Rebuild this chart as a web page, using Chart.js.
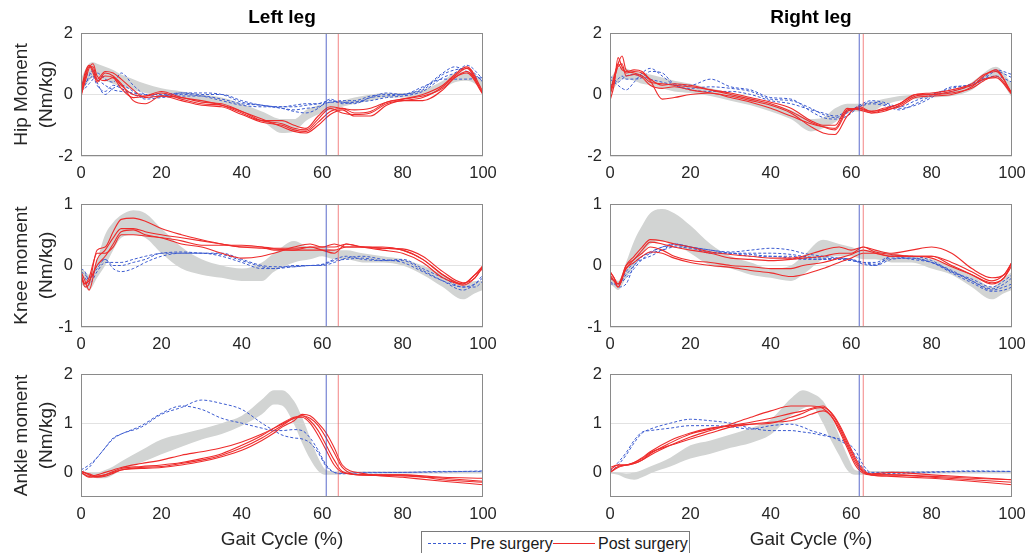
<!DOCTYPE html>
<html>
<head>
<meta charset="utf-8">
<script src="https://cdn.jsdelivr.net/npm/chart.js@4.4.0/dist/chart.umd.min.js"></script>
<style>
  html, body { margin: 0; padding: 0; background: #ffffff; }
  #fig { position: relative; width: 1029px; height: 553px; overflow: hidden; background: #fff;
         font-family: "Liberation Sans", Arial, Helvetica, sans-serif; }
  #fig canvas { position: absolute; }
  #legend { position: absolute; left: 421px; top: 531px; width: 269px; height: 30px; box-sizing: border-box;
            border: 1px solid #7a7a7a; background: #fff; color: #1a1a1a; font-size: 16px; line-height: 16px; }
  #legend .txt { position: absolute; top: 3.6px; white-space: nowrap; }
  #legend .pre { position: absolute; left: 6px; top: 11px; width: 39px; height: 1px;
                 background: repeating-linear-gradient(to right, #3b5bd0 0 3px, transparent 3px 5px); }
  #legend .post { position: absolute; left: 131px; top: 11px; width: 42px; height: 1px; background: #ee2b2b; }
</style>
</head>
<body>
<div id="fig">
  <canvas id="c_lh" width="500" height="186" style="left:0px;top:0px"></canvas>
  <canvas id="c_rh" width="509" height="186" style="left:520px;top:0px"></canvas>
  <canvas id="c_lk" width="500" height="163" style="left:0px;top:194px"></canvas>
  <canvas id="c_rk" width="509" height="163" style="left:520px;top:194px"></canvas>
  <canvas id="c_la" width="500" height="187" style="left:0px;top:364px"></canvas>
  <canvas id="c_ra" width="509" height="187" style="left:520px;top:364px"></canvas>
  <div id="legend">
    <span class="pre"></span><span class="txt" style="left:48px">Pre surgery</span>
    <span class="post"></span><span class="txt" style="left:176px">Post surgery</span>
  </div>
</div>
<script>
// ---------------- DATA ----------------
const xTicks = [0, 20, 40, 60, 80, 100];
const hipTicks = [-2, 0, 2];
const kneeTicks = [-1, 0, 1];
const ankleTicks = [0, 1, 2];

// toe-off (% gait cycle): [left, right]
const toeOffPre = [61, 62];
const toeOffPost = [64, 63];

// gait cycle sample positions (%)
const hipX = [0,1,2,3,4, 6,8,10, 13,16,20, 25,30,35,40,45,50, 53,56,59,62,65,68, 72,76,80, 85,90,93,96,100];
const kneeX = [0,1,2,4,6, 8,10,13,16,20, 25,30,35,40,45, 48,53,57,60,63, 66,70,75,80,85, 90,95,98,100];
const ankleX = [0,2,4,6,8, 10,15,20,25,30, 35,40,45,48,50, 53,55,57,59,61, 63,65,70,80,90, 100];

// ---- Left hip ----
const leftHipBandUpper = [0.5,0.8,1.0,1.05,1.0, 0.9,0.8,0.65, 0.5,0.35,0.2, 0.1,0.0,-0.1,-0.3,-0.55,-0.8, -0.8,-0.5,-0.35,-0.25,-0.2,-0.1, 0.0,0.05,0.05, 0.15,0.45,0.7,0.75,0.45];
const leftHipBandLower = [0.0,0.25,0.45,0.55,0.55, 0.45,0.35,0.25, 0.15,0.05,-0.05, -0.15,-0.25,-0.35,-0.55,-0.85,-1.25, -1.2,-0.85,-0.65,-0.5,-0.4,-0.3, -0.2,-0.1,-0.1, -0.05,0.2,0.4,0.45,0.2];
const leftHipPost = [
  [0,0.6,0.95,0.7,0.4, 0.7,0.6,0.3, 0.0,-0.05,0.05, -0.15,-0.3,-0.35,-0.55,-0.85,-0.95, -1.1,-1.15,-0.8,-0.45,-0.6,-0.65, -0.6,-0.3,-0.2, -0.1,0.25,0.6,0.85,0],
  [-0.1,0.5,0.9,0.9,0.5, 0.75,0.7,0.5, 0.15,-0.1,-0.05, -0.2,-0.35,-0.4,-0.65,-0.9,-1.0, -1.15,-1.2,-0.9,-0.55,-0.45,-0.6, -0.55,-0.25,-0.15, -0.05,0.2,0.55,0.75,0.05],
  [0,0.4,0.85,1.0,0.6, 0.45,0.55,0.35, -0.2,-0.3,-0.05, -0.1,-0.25,-0.3,-0.55,-0.8,-1.05, -1.2,-1.25,-1.0,-0.65,-0.5,-0.7, -0.7,-0.35,-0.2, -0.2,0.15,0.55,0.7,0],
  [0.1,0.7,0.95,0.8,0.45, 0.6,0.55,0.2, -0.1,-0.05,0.1, -0.1,-0.2,-0.35,-0.6,-0.85,-0.85, -1.0,-1.1,-0.7,-0.4,-0.45,-0.5, -0.45,-0.25,-0.15, 0.0,0.3,0.65,0.9,0.1]
];
const leftHipPre = [
  [0.1,0.2,0.35,0.5,0.7, 0.5,0.4,0.7, 0.3,0.0,-0.05, 0.05,0.0,0.0,-0.2,-0.35,-0.4, -0.4,-0.35,-0.3,-0.2,-0.25,-0.3, -0.1,-0.05,0.0, 0.15,0.65,0.8,0.85,0.4],
  [0.2,0.3,0.6,0.8,0.4, 0.0,0.2,0.3, 0.1,-0.15,-0.1, -0.05,-0.05,-0.15,-0.3,-0.35,-0.45, -0.55,-0.6,-0.45,-0.15,-0.3,-0.25, -0.2,-0.1,-0.05, 0.1,0.55,0.7,0.95,0.5],
  [0.3,0.5,0.7,0.6,0.3, 0.1,0.3,0.2, 0.0,-0.1,-0.05, 0.0,-0.05,-0.2,-0.35,-0.4,-0.4, -0.35,-0.3,-0.3,-0.25,-0.2,-0.2, -0.05,0.0,0.0, 0.25,0.5,0.5,0.5,0.55],
  [0.4,0.4,0.5,0.6,0.5, 0.3,0.15,0.1, 0.05,0.0,0.0, 0.05,0.05,0.0,-0.25,-0.35,-0.45, -0.5,-0.45,-0.4,-0.25,-0.25,-0.25, -0.1,0.05,0.0, 0.2,0.7,0.9,0.75,0.45]
];

// ---- Right hip ----
const rightHipBandUpper = [0.5,0.7,0.85,0.9,0.85, 0.75,0.7,0.65, 0.55,0.45,0.35, 0.2,0.05,-0.1,-0.3,-0.5,-0.8, -0.75,-0.45,-0.3,-0.3,-0.25,-0.15, -0.05,0.0,0.05, 0.1,0.4,0.7,0.9,0.35];
const rightHipBandLower = [0.0,0.2,0.4,0.5,0.5, 0.45,0.35,0.3, 0.2,0.1,0.05, -0.05,-0.2,-0.35,-0.55,-0.8,-1.2, -1.1,-0.9,-0.6,-0.55,-0.55,-0.35, -0.2,-0.15,-0.1, -0.05,0.15,0.45,0.55,-0.1];
const rightHipPost = [
  [-0.2,0.3,1.2,0.9,0.7, 0.75,0.7,0.45, -0.15,-0.1,0.0, 0.05,-0.1,-0.25,-0.45,-0.7,-0.95, -1.05,-1.1,-0.5,-0.45,-0.55,-0.45, -0.3,0.0,0.0, 0.1,0.3,0.5,0.55,0.0],
  [0.0,0.6,1.0,1.25,0.8, 0.7,0.6,0.4, 0.35,0.3,0.25, 0.15,0.05,-0.1,-0.25,-0.45,-0.85, -1.0,-1.0,-0.45,-0.5,-0.6,-0.55, -0.35,-0.05,0.0, 0.05,0.2,0.45,0.6,0.05],
  [0.1,0.5,0.9,1.0,0.6, 0.65,0.55,0.3, 0.2,0.25,0.15, 0.05,-0.05,-0.2,-0.35,-0.6,-1.05, -1.25,-1.3,-0.7,-0.4,-0.55,-0.5, -0.4,-0.1,-0.05, 0.0,0.25,0.6,0.8,0.0],
  [0.0,0.4,1.0,0.8,0.75, 0.8,0.75,0.5, 0.3,0.35,0.3, 0.15,0.0,-0.15,-0.3,-0.55,-0.9, -1.05,-1.15,-0.55,-0.45,-0.6,-0.5, -0.3,0.0,0.05, 0.15,0.35,0.65,0.75,0.05]
];
const rightHipPre = [
  [0.5,0.4,0.3,0.2,0.15, 0.4,0.7,0.85, 0.6,0.3,0.2, 0.25,0.2,0.1,-0.15,-0.2,-0.45, -0.65,-0.75,-0.6,-0.35,-0.2,-0.25, -0.4,-0.2,0.0, 0.2,0.35,0.55,0.8,0.65],
  [0.3,0.35,0.5,0.6,0.5, 0.5,0.55,0.75, 0.7,0.35,0.3, 0.5,0.25,0.15,-0.1,-0.15,-0.55, -0.75,-0.8,-0.7,-0.4,-0.25,-0.3, -0.45,-0.35,-0.1, 0.25,0.3,0.5,0.75,0.55],
  [0.6,0.5,0.4,0.5,0.6, 0.65,0.6,0.5, 0.4,0.3,0.15, 0.1,0.1,0.0,-0.2,-0.3,-0.5, -0.6,-0.7,-0.55,-0.4,-0.3,-0.35, -0.5,-0.3,-0.05, 0.1,0.3,0.5,0.6,0.4]
];

// ---- Left knee ----
const leftKneeBandUpper = [-0.05,-0.1,-0.15,0.1,0.5, 0.7,0.82,0.9,0.85,0.6, 0.3,0.1,0.0,-0.05,0.05, 0.2,0.4,0.3,0.3,0.25, 0.25,0.2,0.15,0.1,0.0, -0.15,-0.3,-0.25,-0.25];
const leftKneeBandLower = [-0.3,-0.35,-0.4,-0.2,0.0, 0.25,0.45,0.5,0.45,0.2, -0.05,-0.15,-0.2,-0.25,-0.25, -0.1,0.05,0.1,0.15,0.1, 0.1,0.05,0.05,0.0,-0.15, -0.35,-0.55,-0.45,-0.4];
const leftKneePost = [
  [-0.15,-0.35,-0.3,0.25,0.3, 0.55,0.75,0.77,0.72,0.6, 0.5,0.42,0.35,0.3,0.3, 0.28,0.28,0.3,0.3,0.35, 0.3,0.3,0.28,0.27,0.15, -0.1,-0.28,-0.2,0.0],
  [-0.1,-0.25,-0.4,0.1,0.25, 0.45,0.6,0.6,0.55,0.5, 0.45,0.4,0.35,0.3,0.28, 0.27,0.25,0.25,0.25,0.25, 0.3,0.3,0.28,0.25,0.1, -0.15,-0.3,-0.15,0.0],
  [-0.2,-0.3,-0.2,0.2,0.2, 0.3,0.5,0.5,0.48,0.45, 0.4,0.33,0.33,0.33,0.3, 0.25,0.25,0.3,0.25,0.2, 0.35,0.3,0.25,0.2,0.05, -0.2,-0.3,-0.15,-0.05],
  [-0.15,-0.3,-0.25,0.0,0.15, 0.35,0.55,0.58,0.5,0.45, 0.35,0.3,0.2,0.12,0.15, 0.2,0.3,0.35,0.3,0.3, 0.35,0.3,0.3,0.25,0.1, -0.15,-0.32,-0.2,-0.02]
];
const leftKneePre = [
  [-0.1,-0.15,-0.2,-0.05,0.1, 0.0,0.0,0.05,0.1,0.2, 0.2,0.2,0.2,0.1,0.0, -0.02,-0.02,0.0,0.0,0.05, 0.12,0.15,0.1,0.05,-0.1, -0.25,-0.35,-0.3,-0.2],
  [-0.05,-0.1,-0.25,0.0,0.1, -0.05,-0.1,-0.05,0.05,0.15, 0.2,0.2,0.15,0.05,-0.05, -0.05,0.0,0.0,0.02,0.1, 0.15,0.1,0.08,0.1,-0.05, -0.2,-0.35,-0.35,-0.25],
  [-0.15,-0.2,-0.3,-0.1,0.05, 0.05,0.05,0.1,0.15,0.2, 0.22,0.2,0.18,0.08,-0.02, -0.05,-0.02,0.0,0.01,0.08, 0.1,0.12,0.08,0.08,-0.08, -0.25,-0.4,-0.3,-0.15]
];

// ---- Right knee ----
const rightKneeBandUpper = [-0.15,-0.2,-0.25,0.05,0.4, 0.65,0.85,0.92,0.85,0.65, 0.35,0.15,0.05,-0.05,0.0, 0.15,0.42,0.35,0.3,0.25, 0.25,0.2,0.15,0.1,0.0, -0.15,-0.35,-0.2,-0.1];
const rightKneeBandLower = [-0.3,-0.35,-0.4,-0.2,0.0, 0.2,0.35,0.4,0.35,0.2, 0.0,-0.05,-0.15,-0.2,-0.25, -0.15,0.1,0.15,0.15,0.1, 0.1,0.05,0.05,-0.05,-0.15, -0.35,-0.55,-0.45,-0.4];
const rightKneePost = [
  [-0.1,-0.2,-0.35,0.0,0.15, 0.3,0.42,0.4,0.35,0.3, 0.22,0.18,0.15,0.12,0.12, 0.15,0.25,0.3,0.25,0.3, 0.25,0.2,0.25,0.3,0.2, -0.05,-0.2,-0.15,0.05],
  [-0.15,-0.25,-0.3,0.0,0.1, 0.25,0.38,0.35,0.3,0.25, 0.2,0.12,0.1,0.08,0.1, 0.12,0.15,0.2,0.2,0.3, 0.22,0.18,0.15,0.15,0.05, -0.1,-0.25,-0.15,0.05],
  [-0.1,-0.2,-0.3,-0.05,0.1, 0.2,0.3,0.25,0.15,0.08, 0.05,0.0,-0.02,-0.05,-0.05, 0.0,0.05,0.12,0.18,0.25, 0.2,0.15,0.15,0.15,0.0, -0.15,-0.3,-0.2,0.0],
  [-0.2,-0.25,-0.35,-0.05,0.05, 0.15,0.22,0.2,0.12,0.05, 0.0,-0.03,-0.08,-0.12,-0.18, -0.15,-0.05,0.05,0.12,0.2, 0.2,0.15,0.15,0.12,-0.02, -0.15,-0.28,-0.2,0.05]
];
const rightKneePre = [
  [-0.2,-0.25,-0.3,-0.1,0.05, 0.15,0.22,0.3,0.35,0.3, 0.25,0.22,0.25,0.28,0.25, 0.2,0.15,0.12,0.1,0.02, 0.0,0.1,0.12,0.05,-0.1, -0.25,-0.38,-0.3,-0.2],
  [-0.3,-0.3,-0.35,-0.3,0.0, 0.1,0.15,0.25,0.35,0.3, 0.2,0.2,0.15,0.15,0.12, 0.1,0.1,0.1,0.08,0.05, 0.02,0.12,0.12,0.05,-0.12, -0.28,-0.42,-0.4,-0.35],
  [-0.2,-0.25,-0.3,-0.15,0.0, 0.15,0.2,0.25,0.3,0.28, 0.22,0.2,0.2,0.2,0.18, 0.15,0.12,0.1,0.08,0.05, 0.05,0.15,0.1,0.05,-0.08, -0.25,-0.4,-0.35,-0.3],
  [-0.25,-0.3,-0.3,-0.2,-0.05, 0.1,0.2,0.3,0.32,0.3, 0.25,0.2,0.18,0.15,0.15, 0.12,0.1,0.12,0.1,0.05, 0.0,0.15,0.15,0.08,-0.1, -0.22,-0.35,-0.25,-0.15]
];

// ---- Left ankle ----
const leftAnkleBandUpper = [0.03,0.0,0.0,0.05,0.12, 0.22,0.45,0.67,0.78,0.88, 1.0,1.15,1.48,1.67,1.67, 1.45,1.12,0.7,0.3,0.05, 0.02,0.02,0.02,0.02,0.02, 0.02];
const leftAnkleBandLower = [-0.03,-0.08,-0.12,-0.12,-0.05, 0.05,0.2,0.37,0.52,0.67, 0.78,0.95,1.18,1.38,1.36, 0.98,0.6,0.27,0.03,-0.05, -0.05,-0.03,-0.02,-0.02,-0.02, -0.02];
const leftAnklePost = [
  [0.0,-0.08,-0.05,0.0,0.05, 0.1,0.18,0.25,0.35,0.42, 0.5,0.62,0.78,0.9,0.98, 1.1,1.12,1.0,0.75,0.45, 0.15,0.0,-0.05,-0.05,-0.1, -0.12],
  [0.03,-0.03,-0.08,-0.05,0.02, 0.08,0.12,0.15,0.2,0.28, 0.38,0.55,0.75,0.9,1.0, 1.12,1.15,1.05,0.85,0.55, 0.25,0.02,-0.05,-0.07,-0.12, -0.18],
  [0.0,-0.1,-0.08,-0.05,0.0, 0.05,0.1,0.12,0.18,0.25, 0.35,0.5,0.7,0.85,0.95, 1.1,1.15,1.1,0.95,0.7, 0.4,0.1,-0.05,-0.05,-0.15, -0.2],
  [0.02,-0.05,-0.1,-0.08,-0.02, 0.05,0.08,0.1,0.15,0.22, 0.32,0.45,0.65,0.8,0.92, 1.05,1.18,1.15,1.0,0.8, 0.5,0.15,-0.02,-0.1,-0.18, -0.25]
];
const leftAnklePre = [
  [0.0,0.1,0.3,0.5,0.7, 0.78,0.95,1.2,1.35,1.28, 1.1,1.0,0.9,0.85,0.85, 0.87,0.85,0.7,0.45,0.15, 0.0,-0.03,0.0,0.0,0.02, 0.02],
  [0.05,0.15,0.3,0.5,0.68, 0.78,0.92,1.18,1.32,1.47, 1.4,1.28,1.0,0.85,0.76, 0.7,0.68,0.6,0.4,0.12, 0.0,-0.02,-0.01,0.0,0.01, 0.03]
];

// ---- Right ankle ----
const rightAnkleBandUpper = [0.02,0.0,-0.02,0.0,0.05, 0.12,0.3,0.55,0.65,0.77, 0.9,1.08,1.5,1.67,1.62, 1.45,1.15,0.75,0.35,0.05, 0.02,0.03,0.03,0.03,0.03, 0.03];
const rightAnkleBandLower = [-0.02,-0.05,-0.12,-0.15,-0.1, -0.02,0.12,0.28,0.38,0.5, 0.6,0.77,1.15,1.3,1.35, 1.0,0.65,0.35,0.05,-0.05, -0.05,-0.03,-0.02,-0.02,-0.02, -0.02];
const rightAnklePost = [
  [0.1,0.15,0.15,0.18,0.25, 0.35,0.55,0.72,0.85,0.98, 1.12,1.25,1.35,1.35,1.35, 1.3,1.15,0.9,0.55,0.2, 0.0,-0.05,-0.05,-0.08,-0.12, -0.15],
  [0.0,0.12,0.15,0.18,0.25, 0.38,0.6,0.78,0.88,0.95, 1.02,1.1,1.2,1.25,1.3, 1.35,1.2,0.95,0.6,0.25, 0.02,-0.03,0.0,-0.05,-0.1, -0.15],
  [0.05,0.15,0.15,0.2,0.28, 0.4,0.55,0.68,0.8,0.92, 0.98,1.02,1.05,1.12,1.18, 1.25,1.15,0.85,0.5,0.15, -0.02,-0.05,-0.05,-0.1,-0.15, -0.2],
  [0.0,0.1,0.15,0.2,0.3, 0.42,0.65,0.8,0.9,0.95, 0.98,1.0,1.12,1.2,1.28, 1.32,1.22,0.98,0.65,0.3, 0.05,-0.05,-0.08,-0.12,-0.18, -0.25]
];
const rightAnklePre = [
  [0.0,0.15,0.35,0.6,0.8, 0.88,1.0,1.08,1.05,1.0, 0.9,0.85,0.85,0.82,0.8, 0.75,0.72,0.68,0.6,0.45, 0.15,0.0,0.0,0.01,0.03, 0.02],
  [0.03,0.2,0.4,0.65,0.82, 0.85,0.9,0.95,0.95,0.93, 0.88,0.95,0.98,0.92,0.85, 0.78,0.72,0.65,0.55,0.35, 0.08,-0.02,-0.02,0.0,0.02, 0.02]
];

// ---------------- STYLE / LAYOUT ----------------
const FONT = '"Liberation Sans", Arial, Helvetica, sans-serif';
Chart.defaults.font.family = FONT;
const COL = [{yw: 81, padR: 17, title: 'Left leg'}, {yw: 90, padR: 17, title: 'Right leg'}];
const ROW = [{padT: 0, xh: 30}, {padT: 10, xh: 30}, {padT: 10, xh: 54}];

const panels = [
  {id:'c_lh', col:0, row:0, xs:hipX, ticks:hipTicks, min:-2, max:2, up:leftHipBandUpper, lo:leftHipBandLower, pre:leftHipPre, post:leftHipPost, yTitle:['Hip Moment','(Nm/kg)']},
  {id:'c_rh', col:1, row:0, xs:hipX, ticks:hipTicks, min:-2, max:2, up:rightHipBandUpper, lo:rightHipBandLower, pre:rightHipPre, post:rightHipPost},
  {id:'c_lk', col:0, row:1, xs:kneeX, ticks:kneeTicks, min:-1, max:1, up:leftKneeBandUpper, lo:leftKneeBandLower, pre:leftKneePre, post:leftKneePost, yTitle:['Knee moment','(Nm/kg)']},
  {id:'c_rk', col:1, row:1, xs:kneeX, ticks:kneeTicks, min:-1, max:1, up:rightKneeBandUpper, lo:rightKneeBandLower, pre:rightKneePre, post:rightKneePost},
  {id:'c_la', col:0, row:2, xs:ankleX, ticks:ankleTicks, min:-0.5, max:2, up:leftAnkleBandUpper, lo:leftAnkleBandLower, pre:leftAnklePre, post:leftAnklePost, yTitle:['Ankle moment','(Nm/kg)']},
  {id:'c_ra', col:1, row:2, xs:ankleX, ticks:ankleTicks, min:-0.5, max:2, up:rightAnkleBandUpper, lo:rightAnkleBandLower, pre:rightAnklePre, post:rightAnklePost}
];

const boxPlugin = {
  id: 'box',
  afterDatasetsDraw(chart) {
    const {ctx, chartArea: a} = chart;
    ctx.save();
    ctx.strokeStyle = '#8a8a8a';
    ctx.lineWidth = 1;
    ctx.strokeRect(Math.round(a.left) + 0.5, Math.round(a.top) + 0.5,
                   Math.round(a.right - a.left) - 1, Math.round(a.bottom - a.top) - 1);
    ctx.restore();
  }
};

const lineBase = {pointRadius: 0, pointHoverRadius: 0, tension: 0.4, cubicInterpolationMode: 'monotone', fill: false};

panels.forEach(p => {
  const col = COL[p.col], row = ROW[p.row];
  const pts = ys => p.xs.map((x, i) => ({x: x, y: ys[i]}));
  const datasets = [];
  datasets.push(Object.assign({}, lineBase, {data: pts(p.up), borderWidth: 0, borderColor: 'rgba(0,0,0,0)', order: 4}));
  datasets.push(Object.assign({}, lineBase, {data: pts(p.lo), borderWidth: 0, borderColor: 'rgba(0,0,0,0)', fill: '-1', backgroundColor: '#d2d4d3', order: 4}));
  p.pre.forEach(ys => datasets.push(Object.assign({}, lineBase, {data: pts(ys), borderColor: '#3b5bd0', borderWidth: 1, borderDash: [3, 2], order: 2})));
  p.post.forEach(ys => datasets.push(Object.assign({}, lineBase, {data: pts(ys), borderColor: '#ee2b2b', borderWidth: 1.1, order: 1})));
  const tp = toeOffPre[p.col], tq = toeOffPost[p.col];
  datasets.push({data: [{x: tp, y: p.min}, {x: tp, y: p.max}], borderColor: 'rgba(50,70,190,0.8)', borderWidth: 1, pointRadius: 0, tension: 0, order: 0});
  datasets.push({data: [{x: tq, y: p.min}, {x: tq, y: p.max}], borderColor: 'rgba(238,90,90,0.75)', borderWidth: 1, pointRadius: 0, tension: 0, order: 0});

  new Chart(document.getElementById(p.id), {
    type: 'line',
    data: {datasets: datasets},
    plugins: [boxPlugin],
    options: {
      responsive: false,
      devicePixelRatio: 1,
      animation: false,
      events: [],
      layout: {padding: {top: row.padT, right: col.padR, left: 0, bottom: 0}},
      plugins: {
        legend: {display: false},
        tooltip: {enabled: false},
        title: {
          display: p.row === 0,
          text: col.title,
          fullSize: false,
          color: '#000000',
          font: {size: 19, weight: 'bold', family: FONT},
          padding: {top: 6.5, bottom: 3.7}
        }
      },
      scales: {
        x: {
          type: 'linear', min: 0, max: 100,
          afterBuildTicks: s => { s.ticks = xTicks.map(v => ({value: v})); },
          afterFit: s => { s.height = row.xh; s.paddingLeft = 0; s.paddingRight = 0; },
          ticks: {padding: 8, color: '#262626', font: {size: 16.5}, maxRotation: 0, autoSkip: false},
          grid: {display: false, drawTicks: false},
          border: {display: false},
          title: {display: p.row === 2, text: 'Gait Cycle (%)', color: '#262626', font: {size: 19}, padding: 0}
        },
        y: {
          type: 'linear', min: p.min, max: p.max,
          afterBuildTicks: s => { s.ticks = p.ticks.map(v => ({value: v})); },
          afterFit: s => { s.width = col.yw; s.paddingTop = 0; s.paddingBottom = 0; },
          ticks: {padding: 8, color: '#262626', font: {size: 16.5}},
          grid: {color: '#e2e2e2', drawTicks: false, lineWidth: 1},
          border: {display: false},
          title: {display: !!p.yTitle, text: p.yTitle || '', color: '#262626',
                  font: {size: 19, lineHeight: 1.316}, padding: {top: 9.2, bottom: 0}}
        }
      }
    }
  });
});
</script>
</body>
</html>
